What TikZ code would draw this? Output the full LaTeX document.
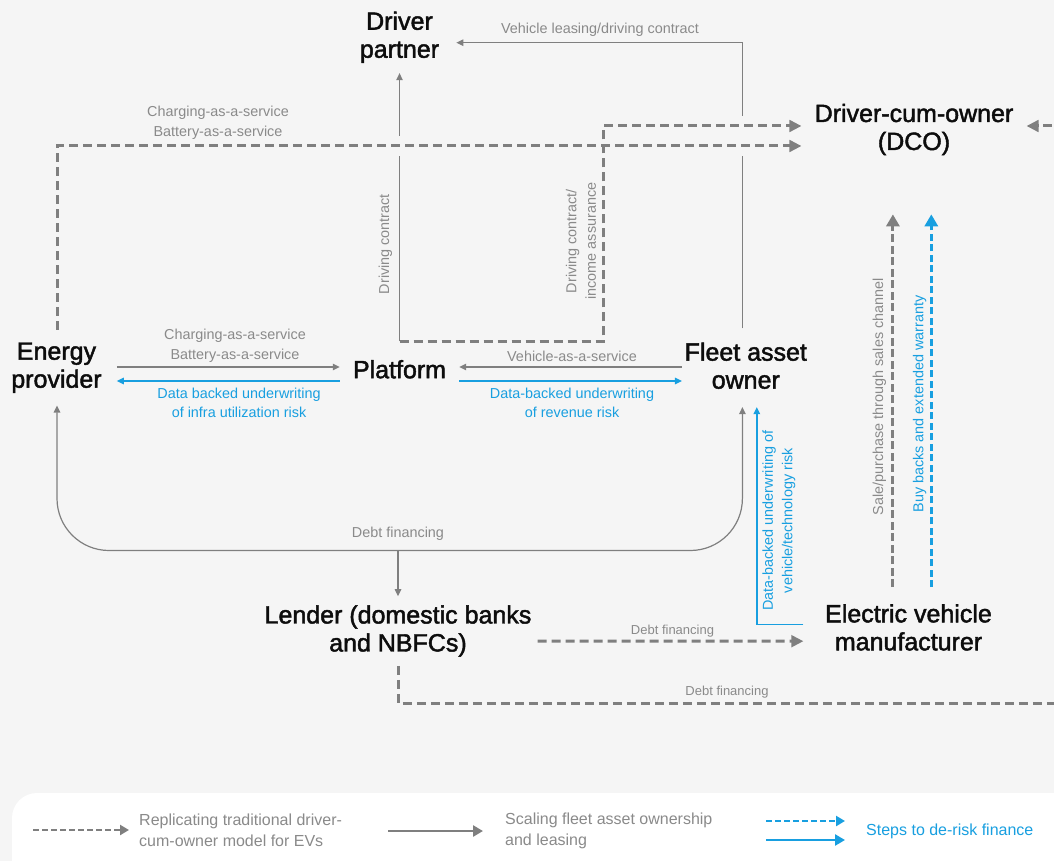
\documentclass[tikz,border=0pt]{standalone}
\usepackage{fontspec}
\setmainfont{Liberation Sans}
\newfontfamily\actorfont[FakeBold=1.8]{Liberation Sans}
\usetikzlibrary{arrows.meta, positioning, calc}
\definecolor{canvasgrey}{HTML}{F5F5F5}
\definecolor{flowgrey}{HTML}{7F7F7F}
\definecolor{notegrey}{HTML}{8A8A8A}
\definecolor{riskblue}{HTML}{189FE0}
\definecolor{actorink}{HTML}{0D0D0D}
\tikzset{
  actor/.style={text=actorink, align=center, font=\actorfont\fontsize{25}{28}\selectfont},
  note/.style={text=notegrey, align=center, inner sep=0pt, font=\fontsize{14.4}{19.5}\selectfont},
  risknote/.style={note, text=riskblue},
  legnote/.style={note, align=left, anchor=west, font=\fontsize{16}{21}\selectfont},
  fleetflow/.style={draw=flowgrey, line width=1.2pt, -{Triangle[length=7pt,width=6.5pt]}},
  dcoflow/.style={draw=flowgrey, line width=3pt, dash pattern=on 9pt off 5pt, -{Triangle[length=12pt,width=11.5pt]}},
  riskflow/.style={draw=riskblue, line width=1.5pt, -{Triangle[length=7pt,width=6.5pt]}},
  riskdash/.style={draw=riskblue, line width=3pt, dash pattern=on 7pt off 3.5pt, -{Triangle[length=12pt,width=13pt]}},
  knockout/.style={draw=canvasgrey, line width=20pt}
}

\begin{document}
\begin{tikzpicture}[x=1pt, y=-1pt]
  % Canvas
  \useasboundingbox (0,0) rectangle (1054,861);
  \clip (0,0) rectangle (1054,861);
  \fill[canvasgrey] (0,0) rectangle (1054,861);

  % Actors
  \node[actor, inner xsep=17pt, inner ysep=10pt] (driver) at (399.5,37.3) {Driver\\partner};
  \node[actor, inner xsep=13pt, inner ysep=0pt] (dco) at (914,129.5) {Driver-cum-owner\\(DCO)};
  \node[actor, inner xsep=15pt, inner ysep=12.5pt] (energy) at (56.5,367.7) {Energy\\provider};
  \node[actor, inner xsep=13pt, inner ysep=18.5pt] (plat) at (399.5,369.3) {Platform};
  \node[actor, inner xsep=2.5pt, inner ysep=14pt] (fleet) at (745.8,365.7) {Fleet asset\\owner};
  \node[actor, inner xsep=6pt, inner ysep=9pt] (lender) at (398,631) {Lender (domestic banks\\and NBFCs)};
  \node[actor, inner xsep=21.5pt, inner ysep=17pt] (ev) at (908.5,627.4) {Electric vehicle\\manufacturer};

  % Rows and routing points
  \coordinate (rowA) at (0,367);
  \coordinate (rowB) at (0,381);
  \coordinate (dcoHigh) at ([yshift=3.5pt]dco.west);
  \coordinate (dcoLow) at ([yshift=-16.5pt]dco.west);
  \coordinate (kink) at (603.5,0);
  \coordinate (debthub) at (398,550.5);
  \coordinate (farturn) at (1090,703);

  % Fleet asset ownership and leasing (solid)
  \draw[fleetflow] ([xshift=-3.4pt]fleet.north) |- ([yshift=-5.4pt]driver.east);
  \draw[fleetflow] (plat.north) -- (driver.south);
  \draw[fleetflow] (energy.east |- rowA) -- (plat.west |- rowA);
  \draw[fleetflow] (fleet.west |- rowA) -- (plat.east |- rowA);
  \draw[fleetflow, {Triangle[length=7pt,width=6.5pt]}-{Triangle[length=7pt,width=6.5pt]}, rounded corners=52pt]
    ([xshift=0.5pt]energy.south) |- (debthub) -| ([xshift=-3.4pt,yshift=-4pt]fleet.south);
  \draw[fleetflow] (debthub) -- (lender.north);

  % Gaps where the dashed lines cross
  \draw[knockout] (energy.north |- dcoLow) -- (dcoLow);
  \draw[knockout] (kink |- dcoHigh) -- (dcoHigh);

  % Driver-cum-owner model (dashed)
  \draw[dcoflow] ([xshift=0.5pt]energy.north) |- (dcoLow);
  \draw[dcoflow] (plat.north) -| (kink |- dcoHigh) -- (dcoHigh);
  \draw[dcoflow] ([yshift=-10pt]lender.east) -- ([yshift=-13.8pt]ev.west);
  \draw[dcoflow] (lender.south) |- (farturn) |- ([yshift=3.5pt]dco.east);
  \draw[dcoflow, dash pattern=on 8pt off 3.5pt, -{Triangle[length=12pt,width=13pt]}]
    ([xshift=-15.6pt]ev.north) -- ([xshift=-21.1pt,yshift=-59pt]dco.south);

  % Steps to de-risk finance (blue)
  \draw[riskdash] ([xshift=22.8pt]ev.north) -- ([xshift=17.3pt,yshift=-59pt]dco.south);
  \draw[riskflow] (plat.west |- rowB) -- (energy.east |- rowB);
  \draw[riskflow] (plat.east |- rowB) -- (fleet.west |- rowB);
  \draw[riskflow] ([yshift=3pt]ev.west) -| ([xshift=11pt,yshift=-4pt]fleet.south);

  % Flow labels
  \node[note] (leaselbl) at (600,30) {Vehicle leasing/driving contract};
  \node[note] (cbtoplbl) at (218,123) {Charging-as-a-service\\Battery-as-a-service};
  \node[note, rotate=90] (drivelbl) at (385.4,244) {Driving contract};
  \node[note, rotate=90] (assurelbl) at (581,241) {Driving contract/\\income assurance};
  \node[note] (cbrowlbl) at (235,346) {Charging-as-a-service\\Battery-as-a-service};
  \node[risknote] (infralbl) at (239,403) {Data backed underwriting\\of infra utilization risk};
  \node[note] (vaaslbl) at (572,356) {Vehicle-as-a-service};
  \node[risknote] (revlbl) at (572,403) {Data-backed underwriting\\of revenue risk};
  \node[note] (debtlbl) at (398,534) {Debt financing};
  \node[risknote, rotate=90] (techlbl) at (779,520.7) {Data-backed underwriting of\\vehicle/technology risk};
  \node[note, rotate=90] (salelbl) at (879.5,396.7) {Sale/purchase through sales channel};
  \node[risknote, rotate=90] (buylbl) at (919.6,404) {Buy backs and extended warranty};
  \node[note, font=\fontsize{13}{16}\selectfont] (evdebtlbl) at (672.5,631) {Debt financing};
  \node[note, font=\fontsize{13}{16}\selectfont] (dcodebtlbl) at (727,692.5) {Debt financing};

  % Legend
  \fill[white, rounded corners=25pt] (12,793) rectangle (1120,900);
  \node[legnote] (legdco) at (139,830) {Replicating traditional driver-\\cum-owner model for EVs};
  \node[legnote] (legfleet) at (505,831) {Scaling fleet asset ownership\\and leasing};
  \node[legnote, text=riskblue] (legrisk) at (866,831) {Steps to de-risk finance};
  \draw[dcoflow, line width=2.4pt, dash pattern=on 6pt off 3pt, -{Triangle[length=9pt,width=10pt]}]
    ([xshift=-106pt]legdco.west) -- ([xshift=-10pt]legdco.west);
  \draw[fleetflow, line width=2.8pt, -{Triangle[length=10pt,width=11pt]}]
    ([xshift=-117pt]legfleet.west) -- ([xshift=-22pt]legfleet.west);
  \draw[riskdash, line width=2.4pt, dash pattern=on 6pt off 3pt, -{Triangle[length=9pt,width=10pt]}]
    ([xshift=-100pt,yshift=10pt]legrisk.west) -- ([xshift=-21pt,yshift=10pt]legrisk.west);
  \draw[riskflow, line width=2.4pt, -{Triangle[length=10pt,width=11pt]}]
    ([xshift=-100pt,yshift=-9pt]legrisk.west) -- ([xshift=-21pt,yshift=-9pt]legrisk.west);
\end{tikzpicture}
\end{document}
